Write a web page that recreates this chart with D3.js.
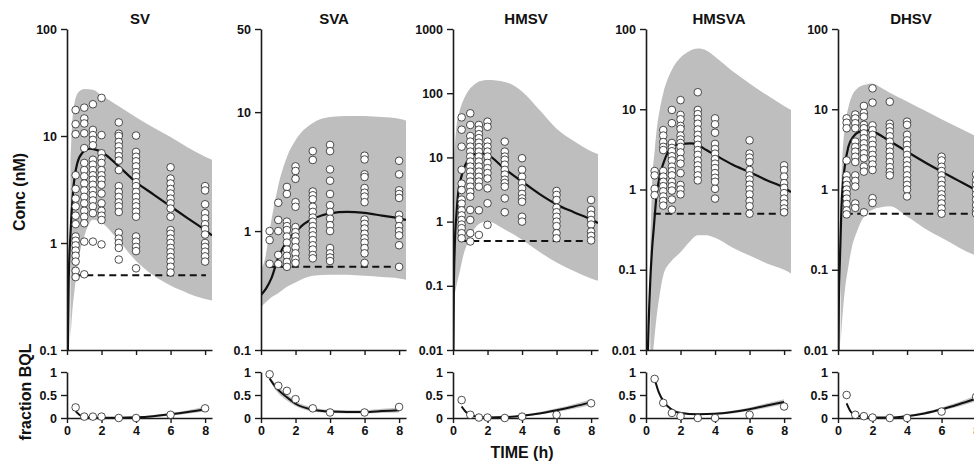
<!DOCTYPE html>
<html>
<head>
<meta charset="utf-8">
<script src="https://cdn.jsdelivr.net/npm/d3@7"></script>
<style>
    body { margin: 0; background: #fff; }
    text { font-family: "Liberation Sans", Arial, sans-serif; font-weight: bold; fill: #111; }
</style>
</head>
<body>
<svg id="chart" width="974" height="465"></svg>
<script>
// sampling times (h) and common ticks
var times = [0.5, 1, 1.5, 2, 3, 4, 6, 8];
var panelNames = ["SV", "SVA", "HMSV", "HMSVA", "DHSV"];
var yTickValues = [
    [0.1, 1, 10, 100],
    [0.1, 1, 10, 50],
    [0.01, 0.1, 1, 10, 100, 1000],
    [0.01, 0.1, 1, 10, 100],
    [0.01, 0.1, 1, 10, 100]
];
var xTickValues = [0, 2, 4, 6, 8];
var bqlTickValues = [0, 0.5, 1];
var lloq = 0.5;
var lloqT = [0.45, 8.05];

// observed concentrations (nM), one list per sampling time
var svObs = [
    [17.5, 12.9, 10.4, 4.3, 3.2, 2.6, 2.2, 1.8, 1.5, 1.15, 1.05, 0.95, 0.85, 0.76, 0.67, 0.55, 0.48],
    [18.4, 14.6, 13.1, 10.6, 7.7, 5.6, 4.8, 4.2, 3.6, 3.1, 2.7, 2.35, 2.0, 1.76, 1.53, 1.03, 0.51],
    [19.8, 11.4, 10.2, 9.2, 8.2, 6.0, 5.4, 4.8, 4.3, 3.9, 3.5, 3.1, 2.8, 2.5, 2.2, 1.9, 1.03],
    [22.7, 10.2, 6.9, 6.2, 5.6, 4.8, 4.3, 3.9, 3.5, 2.9, 2.35, 2.0, 1.8, 1.64, 0.97],
    [13.4, 10.5, 10.0, 8.8, 8.0, 7.2, 6.5, 5.9, 4.8, 3.4, 3.0, 2.7, 2.4, 2.2, 1.95, 1.25, 1.1, 1.0, 0.9, 0.7],
    [10.1, 7.1, 6.4, 5.8, 5.2, 4.6, 4.2, 3.7, 3.4, 3.0, 2.7, 2.4, 2.2, 1.96, 1.76, 1.15, 1.03, 0.92, 0.84, 0.58],
    [5.1, 4.0, 3.6, 3.2, 2.9, 2.6, 2.35, 2.1, 1.76, 1.32, 1.22, 1.1, 1.0, 0.9, 0.82, 0.74, 0.67, 0.6, 0.53],
    [3.4, 3.1, 2.3, 1.9, 1.7, 1.5, 1.35, 1.2, 1.0, 0.92, 0.83, 0.75, 0.67]
];
var svaObs = [
    [1.0, 0.84, 0.53],
    [1.73, 1.24, 1.0, 0.63, 0.53],
    [2.35, 2.05, 1.2, 1.1, 1.02, 0.9, 0.8, 0.7, 0.62, 0.55, 0.5],
    [3.5, 3.2, 2.75, 1.75, 1.6, 1.08, 0.98, 0.9, 0.82, 0.73, 0.65, 0.58, 0.54],
    [4.7, 3.96, 2.15, 2.0, 1.85, 1.6, 1.45, 1.3, 1.2, 1.1, 1.0, 0.92, 0.84, 0.76, 0.7, 0.63, 0.59],
    [5.3, 4.7, 3.3, 2.65, 2.05, 1.65, 1.45, 1.27, 1.12, 1.0, 0.72, 0.65, 0.6, 0.56],
    [4.3, 4.0, 3.0, 2.85, 2.3, 2.1, 1.95, 1.75, 1.25, 1.15, 1.05, 0.95, 0.87, 0.8, 0.72, 0.65, 0.54],
    [3.9, 3.0, 2.2, 2.05, 1.9, 1.37, 1.25, 1.1, 1.0, 0.92, 0.76, 0.5]
];
var hmsvObs = [
    [42, 27, 14.7, 6.4, 3.9, 3.1, 2.2, 1.9, 1.5, 1.25, 1.06, 0.9, 0.79, 0.66, 0.55],
    [48.6, 32, 21.5, 17.6, 14.7, 12.3, 10.3, 8.6, 7.2, 6.0, 5.0, 4.2, 3.5, 2.9, 2.45, 1.52, 1.06, 0.66, 0.49],
    [32, 27, 23, 20, 17, 14.5, 12.3, 10.3, 8.6, 7.2, 6.0, 5.0, 4.2, 3.5, 1.5, 0.62],
    [36, 30, 17.6, 14.7, 12.3, 10.3, 8.2, 6.8, 5.7, 4.7, 3.3, 1.93, 0.89],
    [17.6, 12.3, 10.3, 9.2, 7.7, 6.4, 5.4, 4.5, 4.0, 3.5, 2.3, 1.4],
    [9.7, 6.4, 5.0, 4.0, 3.3, 2.7, 2.3, 2.04, 1.19, 1.0],
    [3.0, 2.6, 2.17, 1.65, 1.4, 1.19, 1.0, 0.85, 0.66, 0.55],
    [2.17, 1.52, 1.28, 1.06, 0.9, 0.7, 0.6, 0.51]
];
var hmsvaObs = [
    [1.7, 1.5, 1.02, 0.85],
    [5.5, 4.7, 3.9, 3.4, 3.1, 1.7, 1.45, 1.25, 1.1, 0.95, 0.82, 0.72, 0.63],
    [9.8, 6.7, 3.8, 3.3, 3.0, 2.6, 2.3, 1.93, 1.7, 1.5, 1.25, 1.1, 0.97, 0.75, 0.56],
    [13, 8.5, 7.5, 6.2, 5.7, 4.7, 4.2, 3.8, 3.4, 2.9, 2.4, 2.1, 1.6, 1.14, 1.0, 0.87],
    [16.3, 9.8, 8.7, 7.6, 6.6, 5.6, 4.8, 4.2, 3.6, 3.1, 2.7, 2.3, 2.0, 1.75, 1.5, 1.3],
    [7.7, 6.5, 5.1, 3.7, 3.2, 2.8, 2.4, 2.1, 1.85, 1.6, 1.4, 1.25, 1.02, 0.77],
    [4.1, 2.8, 2.5, 2.2, 1.75, 1.5, 1.33, 1.15, 1.0, 0.87, 0.72, 0.62, 0.5],
    [2.0, 1.75, 1.45, 1.2, 1.05, 0.9, 0.77, 0.67, 0.58, 0.52]
];
var dhsvObs = [
    [7.7, 6.8, 5.8, 2.3, 1.5, 1.3, 1.14, 1.0, 0.88, 0.77, 0.66, 0.55, 0.49],
    [8.6, 7.7, 6.7, 5.8, 3.95, 3.4, 2.96, 2.56, 2.2, 1.5, 1.28, 1.09, 0.67, 0.59],
    [11, 9, 8.1, 6.4, 5.8, 5.0, 4.35, 3.76, 3.26, 2.82, 2.45, 1.93, 1.67, 0.52],
    [18.2, 12.1, 6.3, 5.5, 4.8, 4.1, 3.6, 3.1, 2.7, 2.35, 2.05, 1.75, 0.78, 0.68],
    [12.4, 6.6, 6.0, 5.3, 4.6, 3.95, 3.4, 2.96, 2.56, 2.2, 1.9, 1.65, 1.5],
    [7.0, 6.4, 4.8, 4.1, 3.6, 3.1, 2.7, 2.3, 2.0, 1.75, 1.5, 1.3, 1.14, 1.0, 0.82],
    [2.56, 2.3, 1.92, 1.7, 1.5, 1.3, 1.14, 1.0, 0.87, 0.77, 0.67, 0.58, 0.5],
    [1.55, 1.3, 1.14, 1.0, 0.87, 0.75, 0.64, 0.55, 0.5]
];

// model median curves
var svCurveT = [0, 0.1, 0.2, 0.35, 0.6, 0.9, 1.3, 1.6, 2, 3, 4, 5, 6, 7, 8, 8.4];
var svCurve = [0.02, 0.45, 1.2, 3.0, 5.6, 7.0, 7.6, 7.5, 7.1, 5.2, 3.7, 2.85, 2.2, 1.7, 1.32, 1.18];
var svaCurveT = [0, 0.3, 0.6, 1, 1.5, 2, 2.5, 3, 3.5, 4, 5, 6, 7, 8, 8.4];
var svaCurve = [0.29, 0.33, 0.4, 0.6, 0.82, 0.98, 1.15, 1.27, 1.35, 1.41, 1.45, 1.42, 1.35, 1.28, 1.24];
var hmsvCurveT = [0, 0.05, 0.1, 0.2, 0.3, 0.45, 0.7, 1, 1.5, 2, 3, 4, 5, 6, 7, 8, 8.4];
var hmsvCurve = [0.002, 0.1, 0.4, 1.3, 2.8, 4.6, 7.5, 10, 11.7, 11, 6.6, 4.2, 2.7, 1.85, 1.4, 1.08, 0.95];
var hmsvaCurveT = [0.05, 0.1, 0.15, 0.25, 0.35, 0.45, 0.6, 0.8, 1, 1.3, 1.6, 2, 2.6, 3, 3.5, 4, 5, 6, 7, 8, 8.4];
var hmsvaCurve = [0.003, 0.008, 0.02, 0.075, 0.18, 0.33, 0.8, 1.5, 2.1, 3.0, 3.5, 3.7, 3.75, 3.6, 3.1, 2.7, 2.05, 1.65, 1.3, 1.05, 0.93];
var dhsvCurveT = [0, 0.05, 0.1, 0.2, 0.3, 0.4, 0.6, 0.9, 1.2, 1.7, 2, 3, 4, 5, 6, 7, 8, 8.4];
var dhsvCurve = [0.002, 0.04, 0.11, 0.6, 1.3, 2.0, 3.4, 4.6, 5.2, 5.5, 5.3, 4.0, 2.96, 2.2, 1.67, 1.28, 0.98, 0.88];

// 90% prediction bands
var svBandT = [0.2, 0.3, 0.45, 0.7, 1.0, 1.5, 2, 3, 4, 5, 6, 7, 8, 8.4];
var svBandHi = [6, 13, 21, 26, 27.5, 27, 24, 19, 15, 12, 9.8, 7.8, 6.4, 6.0];
var svBandLo = [0.13, 0.22, 0.38, 0.75, 1.15, 1.65, 1.55, 1.05, 0.68, 0.5, 0.4, 0.34, 0.3, 0.29];
var svaBandT = [0, 0.25, 0.5, 1, 1.5, 2, 3, 4, 5, 6, 7, 8, 8.4];
var svaBandHi = [0.47, 0.6, 1.0, 2.4, 4.2, 5.8, 8.1, 9.1, 9.3, 9.3, 9.1, 8.8, 8.5];
var svaBandLo = [0.23, 0.25, 0.27, 0.3, 0.34, 0.37, 0.42, 0.43, 0.43, 0.42, 0.41, 0.4, 0.39];
var hmsvBandT = [0.08, 0.2, 0.4, 0.6, 0.9, 1.2, 1.6, 2, 3, 4, 5, 6, 7, 8, 8.4];
var hmsvBandHi = [12, 30, 55, 78, 110, 134, 155, 160, 150, 106, 55, 28, 18, 12.5, 11.3];
var hmsvBandLo = [0.07, 0.1, 0.17, 0.3, 0.5, 0.74, 0.95, 1.0, 0.75, 0.52, 0.34, 0.23, 0.17, 0.13, 0.12];
var hmsvaBandT = [0.25, 0.35, 0.5, 0.65, 0.8, 1, 1.5, 2, 2.5, 3, 3.5, 4, 5, 6, 7, 8, 8.4];
var hmsvaBandHi = [0.2, 1.1, 3.0, 6.3, 10, 15.8, 31, 44, 53, 57, 54, 45, 30, 21, 15, 11, 9.8];
var hmsvaBandLo = [0.002, 0.006, 0.015, 0.03, 0.05, 0.085, 0.13, 0.165, 0.22, 0.27, 0.27, 0.25, 0.19, 0.15, 0.12, 0.1, 0.09];
var dhsvBandT = [0.15, 0.25, 0.4, 0.6, 0.8, 1.1, 1.5, 2, 2.5, 3, 4, 5, 6, 7, 8, 8.4];
var dhsvBandHi = [0.8, 2.5, 6.1, 10.5, 14.5, 18, 20, 21, 18.5, 16, 12.5, 9.7, 7.5, 5.9, 4.6, 4.2];
var dhsvBandLo = [0.012, 0.025, 0.056, 0.11, 0.19, 0.3, 0.46, 0.56, 0.6, 0.62, 0.46, 0.33, 0.25, 0.19, 0.15, 0.14];

// fraction below quantification limit: observed per sampling time, model median and band
var bqlT = [0.5, 0.75, 1, 1.5, 2, 3, 4, 5, 6, 7, 8];
var svBqlObs = [0.23, 0.03, 0.03, 0.03, 0, 0, 0.07, 0.21];
var svBqlMed = [0.15, 0.06, 0.025, 0.01, 0.005, 0.005, 0.015, 0.04, 0.08, 0.13, 0.19];
var svBqlLo = [0.12, 0.04, 0.015, 0.005, 0, 0, 0.005, 0.02, 0.055, 0.095, 0.14];
var svBqlHi = [0.18, 0.08, 0.035, 0.02, 0.012, 0.015, 0.03, 0.065, 0.11, 0.17, 0.25];
var svaBqlObs = [0.95, 0.7, 0.59, 0.41, 0.21, 0.12, 0.12, 0.24];
var svaBqlMed = [0.86, 0.72, 0.61, 0.45, 0.31, 0.18, 0.14, 0.13, 0.13, 0.15, 0.17];
var svaBqlLo = [0.82, 0.66, 0.54, 0.38, 0.26, 0.14, 0.11, 0.1, 0.1, 0.11, 0.12];
var svaBqlHi = [0.9, 0.78, 0.68, 0.52, 0.37, 0.23, 0.18, 0.17, 0.17, 0.2, 0.23];
var hmsvBqlObs = [0.39, 0.07, 0.01, 0.01, 0, 0.03, 0.07, 0.32];
var hmsvBqlMed = [0.25, 0.13, 0.07, 0.025, 0.01, 0.02, 0.05, 0.1, 0.17, 0.25, 0.34];
var hmsvBqlLo = [0.22, 0.11, 0.055, 0.015, 0.004, 0.01, 0.035, 0.075, 0.13, 0.2, 0.28];
var hmsvBqlHi = [0.28, 0.15, 0.085, 0.035, 0.018, 0.03, 0.07, 0.13, 0.21, 0.3, 0.4];
var hmsvaBqlObs = [0.85, 0.33, 0.11, 0.04, 0, 0, 0.07, 0.25];
var hmsvaBqlMed = [0.85, 0.55, 0.37, 0.18, 0.11, 0.08, 0.09, 0.13, 0.19, 0.27, 0.35];
var hmsvaBqlLo = [0.82, 0.51, 0.33, 0.15, 0.085, 0.06, 0.07, 0.1, 0.155, 0.225, 0.3];
var hmsvaBqlHi = [0.88, 0.59, 0.41, 0.21, 0.135, 0.1, 0.115, 0.16, 0.23, 0.32, 0.41];
var dhsvBqlObs = [0.5, 0.07, 0.04, 0.01, 0, 0, 0.14, 0.46];
var dhsvBqlMed = [0.32, 0.13, 0.06, 0.025, 0.012, 0.01, 0.04, 0.1, 0.19, 0.3, 0.42];
var dhsvBqlLo = [0.29, 0.11, 0.045, 0.015, 0.005, 0.003, 0.025, 0.075, 0.155, 0.25, 0.36];
var dhsvBqlHi = [0.35, 0.15, 0.075, 0.035, 0.02, 0.02, 0.06, 0.13, 0.23, 0.35, 0.49];

var panels = [
    {obs: svObs, cT: svCurveT, c: svCurve, bT: svBandT, bLo: svBandLo, bHi: svBandHi,
        qObs: svBqlObs, qMed: svBqlMed, qLo: svBqlLo, qHi: svBqlHi},
    {obs: svaObs, cT: svaCurveT, c: svaCurve, bT: svaBandT, bLo: svaBandLo, bHi: svaBandHi,
        qObs: svaBqlObs, qMed: svaBqlMed, qLo: svaBqlLo, qHi: svaBqlHi},
    {obs: hmsvObs, cT: hmsvCurveT, c: hmsvCurve, bT: hmsvBandT, bLo: hmsvBandLo, bHi: hmsvBandHi,
        qObs: hmsvBqlObs, qMed: hmsvBqlMed, qLo: hmsvBqlLo, qHi: hmsvBqlHi},
    {obs: hmsvaObs, cT: hmsvaCurveT, c: hmsvaCurve, bT: hmsvaBandT, bLo: hmsvaBandLo, bHi: hmsvaBandHi,
        qObs: hmsvaBqlObs, qMed: hmsvaBqlMed, qLo: hmsvaBqlLo, qHi: hmsvaBqlHi},
    {obs: dhsvObs, cT: dhsvCurveT, c: dhsvCurve, bT: dhsvBandT, bLo: dhsvBandLo, bHi: dhsvBandHi,
        qObs: dhsvBqlObs, qMed: dhsvBqlMed, qLo: dhsvBqlLo, qHi: dhsvBqlHi}
];

// layout
var panelX = [67, 261, 453, 646, 838];
var plotW = 145;
var topY = 29, topBottom = 350;
var bqlTop = 372, bqlBottom = 418;
var axisColor = "#1a1a1a";

var svg = d3.select("#chart");
var defs = svg.append("defs");

function styleAxis(g) {
    g.select(".domain").attr("stroke", axisColor).attr("stroke-width", 1.6);
    g.selectAll(".tick line").attr("stroke", axisColor).attr("stroke-width", 1.4);
    g.selectAll(".tick text")
        .attr("fill", "#111")
        .style("font-size", "12.5px")
        .style("font-weight", "bold")
        .style("font-family", "'Liberation Sans', Arial, sans-serif");
}

panels.forEach(function (p, i) {
    var x0 = panelX[i];
    var ticks = yTickValues[i];
    var x = d3.scaleLinear().domain([0, 8.4]).range([x0, x0 + plotW]);
    var y = d3.scaleLog().domain([ticks[0], ticks[ticks.length - 1]]).range([topBottom, topY]);
    var yq = d3.scaleLinear().domain([0, 1]).range([bqlBottom, bqlTop]);

    defs.append("clipPath").attr("id", "clip" + i)
        .append("rect")
        .attr("x", x0).attr("y", topY)
        .attr("width", plotW).attr("height", topBottom - topY);

    var g = svg.append("g");
    var plot = g.append("g").attr("clip-path", "url(#clip" + i + ")");

    // prediction band
    var band = p.bT.map(function (t, k) { return {t: t, lo: p.bLo[k], hi: p.bHi[k]}; });
    plot.append("path")
        .datum(band)
        .attr("fill", "#bebebe")
        .attr("d", d3.area()
            .x(function (d) { return x(d.t); })
            .y0(function (d) { return y(d.lo); })
            .y1(function (d) { return y(d.hi); })
            .curve(d3.curveMonotoneX));

    // LLOQ dashed line
    plot.append("line")
        .attr("x1", x(lloqT[0])).attr("x2", x(lloqT[1]))
        .attr("y1", y(lloq)).attr("y2", y(lloq))
        .attr("stroke", "#111")
        .attr("stroke-width", 2)
        .attr("stroke-dasharray", "7,4.5");

    // observed points
    var pts = [];
    p.obs.forEach(function (vals, k) {
        vals.forEach(function (v) { pts.push({t: times[k], v: v}); });
    });
    g.append("g")
        .selectAll("circle")
        .data(pts)
        .enter()
        .append("circle")
        .attr("cx", function (d) { return x(d.t); })
        .attr("cy", function (d) { return y(d.v); })
        .attr("r", 3.8)
        .attr("fill", "#fff")
        .attr("stroke", "#222")
        .attr("stroke-width", 0.8);

    // median curve
    var curve = p.cT.map(function (t, k) { return {t: t, v: p.c[k]}; });
    plot.append("path")
        .datum(curve)
        .attr("fill", "none")
        .attr("stroke", "#111")
        .attr("stroke-width", 2.2)
        .attr("d", d3.line()
            .x(function (d) { return x(d.t); })
            .y(function (d) { return y(d.v); })
            .curve(d3.curveMonotoneX));

    // axes of the concentration panel
    g.append("g")
        .attr("transform", "translate(" + x0 + ",0)")
        .call(d3.axisLeft(y).tickValues(ticks).tickFormat(function (d) { return String(d); })
            .tickSize(6).tickSizeOuter(0).tickPadding(4))
        .call(styleAxis);
    g.append("g")
        .attr("transform", "translate(0," + topBottom + ")")
        .call(d3.axisBottom(x).tickValues(xTickValues).tickFormat("").tickSize(5).tickSizeOuter(0))
        .call(styleAxis);

    // title
    g.append("text")
        .attr("x", x0 + 73)
        .attr("y", 24)
        .attr("text-anchor", "middle")
        .style("font-size", "15px")
        .text(panelNames[i]);

    // fraction BQL panel
    var qBand = bqlT.map(function (t, k) { return {t: t, lo: p.qLo[k], hi: p.qHi[k], m: p.qMed[k]}; });
    g.append("path")
        .datum(qBand)
        .attr("fill", "#c4c4c4")
        .attr("d", d3.area()
            .x(function (d) { return x(d.t); })
            .y0(function (d) { return yq(d.lo); })
            .y1(function (d) { return yq(d.hi); })
            .curve(d3.curveMonotoneX));
    g.append("path")
        .datum(qBand)
        .attr("fill", "none")
        .attr("stroke", "#111")
        .attr("stroke-width", 2)
        .attr("d", d3.line()
            .x(function (d) { return x(d.t); })
            .y(function (d) { return yq(d.m); })
            .curve(d3.curveMonotoneX));

    g.append("g")
        .attr("transform", "translate(" + x0 + ",0)")
        .call(d3.axisLeft(yq).tickValues(bqlTickValues).tickFormat(function (d) { return String(d); })
            .tickSize(6).tickSizeOuter(0).tickPadding(4))
        .call(styleAxis);
    g.append("g")
        .attr("transform", "translate(0," + bqlBottom + ")")
        .call(d3.axisBottom(x).tickValues(xTickValues).tickSize(5).tickSizeOuter(0).tickPadding(3))
        .call(styleAxis);

    g.append("g")
        .selectAll("circle")
        .data(p.qObs)
        .enter()
        .append("circle")
        .attr("cx", function (d, k) { return x(times[k]); })
        .attr("cy", function (d) { return yq(d); })
        .attr("r", 3.8)
        .attr("fill", "#fff")
        .attr("stroke", "#222")
        .attr("stroke-width", 0.8);
});

// axis titles
svg.append("text")
    .attr("transform", "translate(25,192) rotate(-90)")
    .attr("text-anchor", "middle")
    .style("font-size", "16px")
    .text("Conc (nM)");
svg.append("text")
    .attr("transform", "translate(31,392) rotate(-90)")
    .attr("text-anchor", "middle")
    .style("font-size", "16px")
    .text("fraction BQL");
svg.append("text")
    .attr("x", 522)
    .attr("y", 458)
    .attr("text-anchor", "middle")
    .style("font-size", "16px")
    .text("TIME (h)");
</script>
</body>
</html>
